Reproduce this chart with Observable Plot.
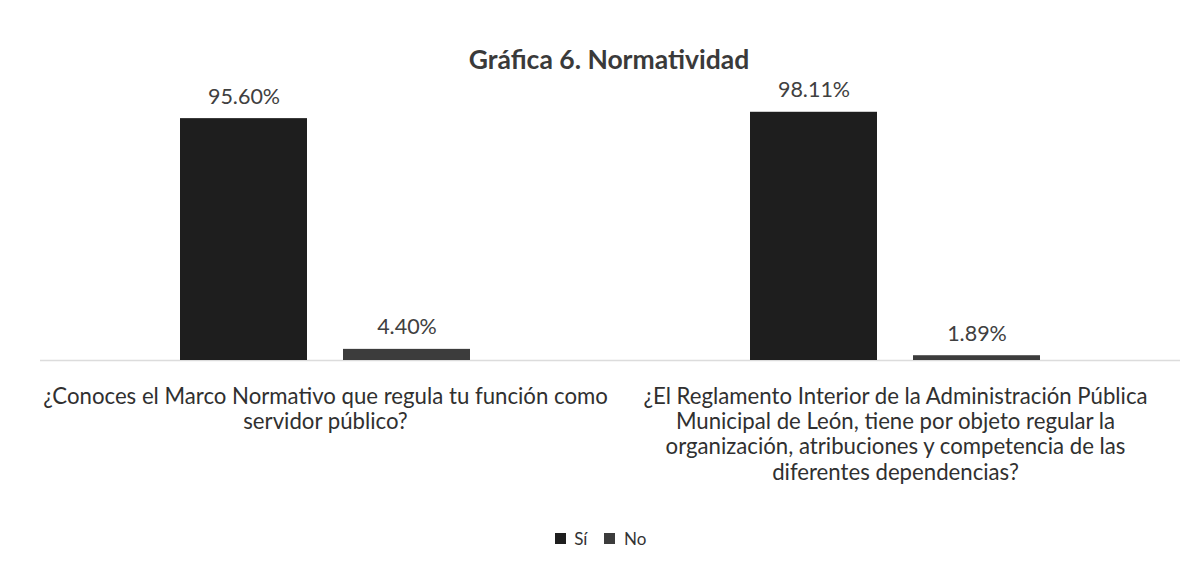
<!DOCTYPE html>
<html>
<head>
<meta charset="utf-8">
<script src="https://cdn.jsdelivr.net/npm/d3@7"></script>
<script src="https://cdn.jsdelivr.net/npm/@observablehq/plot@0.6"></script>
<style>
  html, body { margin: 0; padding: 0; background: #fff; }
  body { width: 1202px; height: 562px; overflow: hidden; font-family: Lato, "Open Sans", sans-serif; }
  #title { height: 72px; display: flex; align-items: flex-end; justify-content: center; box-sizing: border-box; padding-bottom: 0px;
           font-weight: bold; font-size: 26.5px; color: #3a3a3a; padding-left: 16px; position: relative; top: 3px; }
  #chart svg { display: block; }
  #legend { display: flex; justify-content: center; margin-top: 30px; padding-left: 16px; }
</style>
</head>
<body>
<div id="title">Gráfica 6. Normatividad</div>
<div id="chart"></div>
<div id="legend"></div>
<script>
const preguntas = [
  "¿Conoces el Marco Normativo que regula tu función como\nservidor público?",
  "¿El Reglamento Interior de la Administración Pública\nMunicipal de León, tiene por objeto regular la\norganización, atribuciones y competencia de las\ndiferentes dependencias?"
];
const respuestas = ["Sí", "No"];
const valoresSi = [95.60, 98.11];
const valoresNo = [4.40, 1.89];
const colores = ["#1e1e1e", "#3c3c3c"];

const data = [];
preguntas.forEach((p, i) => {
  data.push({pregunta: p, respuesta: "Sí", valor: valoresSi[i]});
  data.push({pregunta: p, respuesta: "No", valor: valoresNo[i]});
});

const chart = Plot.plot({
  width: 1202,
  height: 420,
  marginTop: 35,
  marginBottom: 132,
  marginLeft: 40,
  marginRight: 22,
  style: {fontFamily: "Lato, 'Open Sans', sans-serif", background: "#fff"},
  fx: {domain: preguntas, padding: 0, label: null},
  x: {domain: respuestas, paddingInner: 0.22, paddingOuter: 0.848, axis: null},
  y: {domain: [0, 100], axis: null},
  color: {domain: respuestas, range: colores},
  marks: [
    Plot.ruleY([0], {stroke: "#dcdcdc", strokeWidth: 1.5}),
    Plot.barY(data, {fx: "pregunta", x: "respuesta", y: "valor", fill: "respuesta"}),
    Plot.text(data, {fx: "pregunta", x: "respuesta", y: "valor",
      text: d => d.valor.toFixed(2) + "%", dy: -22, fontSize: 21.5, fill: "#404040"}),
    Plot.axisFx({anchor: "bottom", tickSize: 0, tickPadding: 26, fontSize: 22.2,
      lineHeight: 1.13, label: null, fill: "#303030"})
  ]
});
document.getElementById("chart").appendChild(chart);

const legend = Plot.legend({
  color: {domain: respuestas, range: colores},
  swatchSize: 11,
  style: {fontFamily: "Lato, 'Open Sans', sans-serif", fontSize: "17px", color: "#333"}
});
document.getElementById("legend").appendChild(legend);
</script>
</body>
</html>
